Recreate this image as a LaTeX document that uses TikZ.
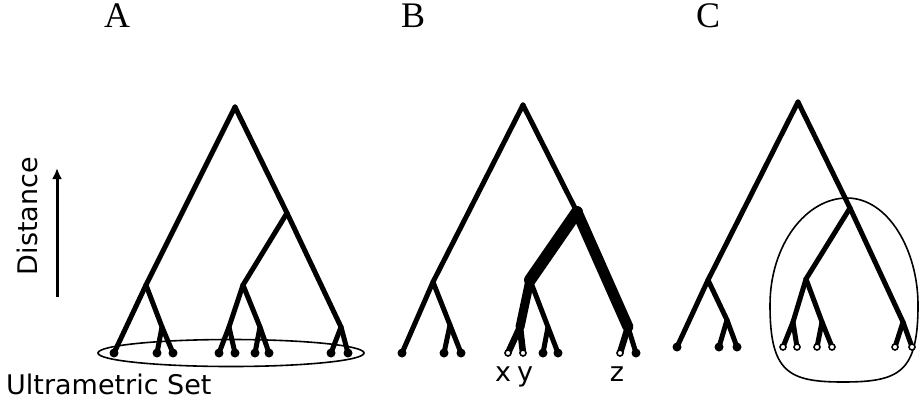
\documentclass[tikz,border=0pt]{standalone}
\usepackage{fontspec}
\setmainfont{Liberation Serif}
\newfontfamily\labelsans{DejaVu Sans}
\usetikzlibrary{arrows.meta,shapes.geometric}
\begin{document}
\begin{tikzpicture}[x=1pt,y=-1pt,
  branch/.style={line width=5pt, line cap=round, line join=round},
  heavy/.style={line width=#1, line cap=round, line join=round},
  leafdot/.style={circle, fill=black, inner sep=0pt, minimum size=9pt},
  opendot/.style={circle, draw=black, fill=white, line width=1.6pt, inner sep=0pt, minimum size=6pt},
  paneltitle/.style={font=\fontsize{36}{40}\selectfont, inner sep=0pt, anchor=base},
  sanslabel/.style={font=\labelsans\fontsize{27}{30}\selectfont, inner sep=0pt},
  setline/.style={line width=1.6pt}]
\useasboundingbox (0,0) rectangle (920,405);

% panel titles
\node[paneltitle] (tA) at (117,27) {A};
\node[paneltitle] (tB) at (413,27) {B};
\node[paneltitle] (tC) at (708,27) {C};

% distance axis
\coordinate (d0) at (57,297);
\coordinate (d1) at (57,168);
\draw[line width=3pt, -{Latex[length=11pt,width=10pt]}] (d0) -- (d1);
\node[sanslabel, rotate=90] (dist) at (27,216) {Distance};
\node[sanslabel, anchor=base west] (ultra) at (6,394) {Ultrametric Set};

% ---------------- Tree A ----------------
\coordinate (rA) at (235,107);
\coordinate (LA) at (146,285);
\coordinate (RA) at (287,213);
\coordinate (RLA) at (243,285);
\coordinate (jA1) at (162,327);
\coordinate (jA2) at (229,327);
\coordinate (jA3) at (260,327);
\coordinate (jA4) at (341,327);
\coordinate (a1) at (114,353);
\coordinate (a2) at (157,353);
\coordinate (a3) at (173,353);
\coordinate (a4) at (219,353);
\coordinate (a5) at (235,353);
\coordinate (a6) at (255,353);
\coordinate (a7) at (269,353);
\coordinate (a8) at (331,353);
\coordinate (a9) at (348,353);
\node[draw, setline, ellipse, minimum width=266pt, minimum height=27pt, inner sep=0pt] (setA) at (231,353) {};
\draw[branch] (rA) -- (LA) -- (a1);
\draw[branch] (LA) -- (jA1) -- (a3);
\draw[branch] (jA1) -- (a2);
\draw[branch] (rA) -- (RA) -- (jA4) -- (a9);
\draw[branch] (jA4) -- (a8);
\draw[branch] (RA) -- (RLA) -- (jA2) -- (a4);
\draw[branch] (jA2) -- (a5);
\draw[branch] (RLA) -- (jA3) -- (a7);
\draw[branch] (jA3) -- (a6);
\foreach \p in {a1,a2,a3,a4,a5,a6,a7,a8,a9}
  \node[leafdot] (\p d) at (\p) {};

% ---------------- Tree B ----------------
\coordinate (rB) at (523,105);
\coordinate (LB) at (433,282);
\coordinate (RB) at (577,212);
\coordinate (RLB) at (530,280);
\coordinate (jB1) at (450,325);
\coordinate (jB2) at (520,327);
\coordinate (jB3) at (548,327);
\coordinate (jB4) at (628,327);
\coordinate (b1) at (402,353);
\coordinate (b2) at (444,353);
\coordinate (b3) at (461,353);
\coordinate (b4) at (508,353);
\coordinate (b5) at (523,353);
\coordinate (b6) at (543,353);
\coordinate (b7) at (558,353);
\coordinate (b8) at (620,353);
\coordinate (b9) at (636,353);
\draw[branch] (rB) -- (LB) -- (b1);
\draw[branch] (LB) -- (jB1) -- (b3);
\draw[branch] (jB1) -- (b2);
\draw[branch] (rB) -- (RB);
\draw[branch] (jB4) -- (b9);
\draw[branch] (RLB) -- (jB3) -- (b7);
\draw[branch] (jB3) -- (b6);
\draw[heavy=12pt] (RB) -- (RLB);
\draw[heavy=9pt] (RLB) -- (jB2);
\draw[heavy=6.5pt] (jB2) -- (b4);
\draw[heavy=6.5pt] (jB2) -- (b5);
\draw[heavy=11pt] (RB) -- (jB4);
\draw[heavy=6.5pt] (jB4) -- (b8);
\foreach \p in {b1,b2,b3,b6,b7,b9}
  \node[leafdot] (\p d) at (\p) {};
\foreach \p in {b4,b5,b8}
  \node[opendot] (\p d) at (\p) {};
\node[sanslabel, anchor=base] (lx) at (503,381) {x};
\node[sanslabel, anchor=base] (ly) at (525,381) {y};
\node[sanslabel, anchor=base] (lz) at (617,381) {z};

% ---------------- Tree C ----------------
\coordinate (rC) at (798,102);
\coordinate (LC) at (708,280);
\coordinate (RC) at (850,208);
\coordinate (RLC) at (806,279);
\coordinate (jC1) at (727,320);
\coordinate (jC2) at (793,322);
\coordinate (jC3) at (822,322);
\coordinate (jC4) at (903,322);
\coordinate (c1) at (677,347);
\coordinate (c2) at (719,347);
\coordinate (c3) at (737,347);
\coordinate (c4) at (783,347);
\coordinate (c5) at (797,347);
\coordinate (c6) at (817,347);
\coordinate (c7) at (832,347);
\coordinate (c8) at (895,347);
\coordinate (c9) at (912,347);
\coordinate (ct) at (847,198);
\coordinate (cr) at (918,305);
\coordinate (cb) at (843,382);
\coordinate (cl) at (770,305);
\draw[setline] (ct) .. controls (888,198) and (918,250) .. (cr)
  .. controls (918,372) and (900,382) .. (cb)
  .. controls (788,382) and (770,372) .. (cl)
  .. controls (770,245) and (806,198) .. (ct) -- cycle;
\draw[branch] (rC) -- (LC) -- (c1);
\draw[branch] (LC) -- (jC1) -- (c3);
\draw[branch] (jC1) -- (c2);
\draw[branch] (rC) -- (RC) -- (jC4) -- (c9);
\draw[branch] (jC4) -- (c8);
\draw[branch] (RC) -- (RLC) -- (jC2) -- (c4);
\draw[branch] (jC2) -- (c5);
\draw[branch] (RLC) -- (jC3) -- (c7);
\draw[branch] (jC3) -- (c6);
\foreach \p in {c1,c2,c3}
  \node[leafdot] (\p d) at (\p) {};
\foreach \p in {c4,c5,c6,c7,c8,c9}
  \node[opendot] (\p d) at (\p) {};
\end{tikzpicture}
\end{document}
